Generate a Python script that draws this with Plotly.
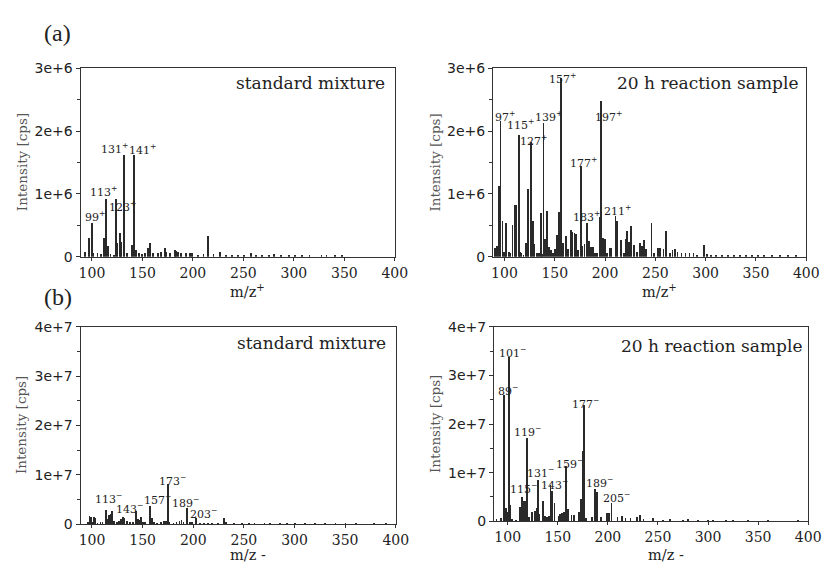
import plotly.graph_objects as go

# ---------------- data ----------------
# (a) positive mode, standard mixture  (intensity in 1e6 cps)
mz_a_std = [92.6, 96.7, 99.3, 101, 105, 108.5, 111.2, 113.5, 115.8, 118, 121, 123.2, 124.8, 127.1, 128.7, 131.6, 134,
            139.3, 141.3, 143, 146, 149, 152, 154.8, 157.1, 160, 165, 168, 171.9, 173, 177, 181.6, 183, 185, 188,
            193, 196.5, 199, 205, 210, 214.5, 220, 226.6, 232, 238, 244, 250, 257, 262, 268, 275, 280, 287,
            295, 301, 308, 315, 327, 332, 340, 347]
int_a_std = [0.08, 0.29, 0.54, 0.06, 0.05, 0.04, 0.30, 0.92, 0.17, 0.04, 0.03, 0.91, 0.21, 0.37, 0.23, 1.62, 0.05,
             0.19, 1.62, 0.10, 0.05, 0.04, 0.06, 0.14, 0.21, 0.05, 0.06, 0.08, 0.13, 0.08, 0.05, 0.11, 0.09, 0.08, 0.06,
             0.05, 0.05, 0.06, 0.03, 0.04, 0.33, 0.04, 0.07, 0.03, 0.03, 0.03, 0.03, 0.05, 0.03, 0.02, 0.03, 0.04, 0.02,
             0.02, 0.02, 0.03, 0.02, 0.02, 0.02, 0.02, 0.01]

# (a) positive mode, 20 h reaction sample  (1e6 cps)
mz_a_rxn = [90.3, 92.5, 94.2, 96.1, 98.0, 99.5, 101.0, 101.9, 104.5, 106, 108.0, 110.6, 111.8, 114.1, 115.5, 117, 119,
            121.5, 123.5, 126.4, 128.4, 129.8, 132, 134, 136.1, 137.5, 138.7, 140.2, 141.9, 144, 146, 148, 150.5,
            152.3, 154.5, 156.4, 157.8, 161.3, 163.5, 166.1, 167.6, 169.6, 171, 173, 175.8, 177.6, 179.5, 182.3,
            184, 186, 188, 190, 192, 194.5, 195.8, 197.6, 199.6, 202, 204.8, 206.5, 210.4, 212.0, 215.8, 218.5,
            220.3, 221.9, 223.5, 225.8, 228.9, 232, 234.5, 236.5, 238.4, 241, 246.2, 248.5, 253, 255, 258, 260.6,
            264.5, 267, 269.5, 272, 276, 280, 284, 288, 291, 298.2, 301, 305, 310, 316, 322, 328, 334, 340, 346,
            352, 358, 366, 374, 382, 390]
int_a_rxn = [0.13, 0.17, 1.12, 2.15, 0.56, 0.08, 0.30, 0.54, 0.07, 0.06, 0.50, 0.82, 0.82, 1.94, 0.08, 0.05, 0.03,
             0.22, 1.07, 1.82, 0.56, 0.20, 0.05, 0.06, 0.70, 0.04, 2.13, 0.28, 0.72, 0.15, 0.10, 0.06, 0.12,
             0.35, 0.71, 2.84, 0.22, 0.33, 0.12, 0.42, 0.39, 0.38, 0.36, 0.10, 1.44, 0.17, 0.20, 0.53,
             0.24, 0.16, 0.15, 0.05, 0.06, 0.63, 2.47, 0.29, 0.28, 0.05, 0.14, 0.14, 0.65, 0.57, 0.26, 0.05,
             0.28, 0.40, 0.23, 0.49, 0.18, 0.08, 0.21, 0.17, 0.26, 0.12, 0.53, 0.05, 0.14, 0.14, 0.12, 0.40,
             0.05, 0.10, 0.12, 0.07, 0.06, 0.06, 0.05, 0.05, 0.03, 0.19, 0.04, 0.03, 0.03, 0.02, 0.02, 0.02, 0.02, 0.02, 0.02,
             0.02, 0.02, 0.02, 0.01, 0.02, 0.02]

# (b) negative mode, standard mixture  (1e7 cps)
mz_b_std = [96.0, 97.1, 98.7, 100, 101.6, 102.5, 105, 108, 110, 113.0, 114.5, 116, 117.8, 119.7, 121, 124, 126, 128,
            130, 131.5, 134, 137, 140, 143.0, 144.8, 146, 147.8, 150, 152, 156.8, 158.6, 161, 164, 168, 171, 172.5,
            174.5, 176, 180, 183, 186, 188, 190, 193.6, 196, 198, 202.6, 206, 210, 214, 218, 224, 230.1, 232, 240,
            248, 255, 260, 270, 275, 285, 292, 300, 310, 320, 330, 340, 350, 360, 378, 390]
int_b_std = [0.05, 0.16, 0.14, 0.04, 0.14, 0.12, 0.03, 0.04, 0.05, 0.30, 0.10, 0.18, 0.20, 0.27, 0.06, 0.05, 0.07, 0.10,
             0.14, 0.12, 0.06, 0.04, 0.05, 0.28, 0.10, 0.08, 0.15, 0.04, 0.05, 0.37, 0.12, 0.04, 0.03, 0.05, 0.06, 0.06,
             0.81, 0.05, 0.03, 0.04, 0.07, 0.08, 0.05, 0.33, 0.05, 0.05, 0.13, 0.03, 0.02, 0.03, 0.03, 0.02, 0.12, 0.05, 0.02,
             0.01, 0.02, 0.01, 0.01, 0.02, 0.02, 0.01, 0.02, 0.01, 0.01, 0.01, 0.01, 0.01, 0.01, 0.02, 0.01]

# (b) negative mode, 20 h reaction sample  (1e7 cps)
mz_b_rxn = [88.7, 93.6, 96.2, 98.5, 100, 101.1, 102.1, 104.4, 108, 112.1, 114.1, 115.8, 117.1, 119.1, 121.4, 124.6,
            126.9, 128.8, 130.1, 131.5, 135, 137, 139.2, 141.5, 142.8, 144.4, 146.7, 150.6, 152.3, 153.9, 156.5,
            157.8, 160.5, 163.7, 166.3, 170.9, 172.8, 174.8, 176.5, 178.4, 184, 187, 189.2, 193.1, 199, 201.3,
            203.6, 209.5, 214.4, 217.6, 222.5, 229, 232.3, 235.6, 245.4, 255, 262, 275, 280, 290, 300, 305, 318,
            325, 340, 360, 390]
int_b_rxn = [0.05, 0.06, 2.61, 0.27, 0.20, 3.38, 0.33, 0.05, 0.03, 0.30, 0.50, 0.43, 0.43, 1.71, 0.10, 0.20,
             0.22, 0.27, 0.85, 0.15, 0.42, 0.12, 0.10, 0.12, 0.75, 0.63, 0.38, 0.12, 0.15, 0.18, 0.20,
             1.13, 0.25, 0.13, 0.13, 0.20, 0.47, 1.45, 2.40, 0.08, 0.10, 0.67, 0.60, 0.10, 0.17, 0.18,
             0.37, 0.10, 0.12, 0.07, 0.06, 0.10, 0.14, 0.05, 0.08, 0.03, 0.04, 0.03, 0.04, 0.03, 0.03, 0.02, 0.03,
             0.02, 0.02, 0.02, 0.02]

# peak labels: (text, m/z position of label, intensity position of label)
lab_a_std = [("99<sup>+</sup>", 103.5, 0.66), ("113<sup>+</sup>", 111, 1.05), ("123<sup>+</sup>", 130.4, 0.81),
             ("131<sup>+</sup>", 122.8, 1.74), ("141<sup>+</sup>", 150.0, 1.72)]
lab_a_rxn = [("97<sup>+</sup>", 100.3, 2.25), ("115<sup>+</sup>", 115.8, 2.12), ("139<sup>+</sup>", 143.9, 2.25),
             ("127<sup>+</sup>", 128.4, 1.86), ("157<sup>+</sup>", 157.4, 2.86), ("197<sup>+</sup>", 203.9, 2.25),
             ("177<sup>+</sup>", 178.2, 1.52), ("183<sup>+</sup>", 181.6, 0.66), ("211<sup>+</sup>", 212.6, 0.75)]
lab_b_std = [("113<sup>−</sup>", 116.2, 0.54), ("143<sup>−</sup>", 137, 0.34), ("157<sup>−</sup>", 165, 0.51),
             ("173<sup>−</sup>", 179.1, 0.91), ("189<sup>−</sup>", 192.6, 0.45), ("203<sup>−</sup>", 210, 0.23)]
lab_b_rxn = [("101<sup>−</sup>", 104.4, 3.50), ("89<sup>−</sup>", 100, 2.72), ("119<sup>−</sup>", 119.6, 1.87),
             ("131<sup>−</sup>", 132.3, 1.03), ("115<sup>−</sup>", 115.7, 0.70), ("143<sup>−</sup>", 147.0, 0.78),
             ("159<sup>−</sup>", 161.3, 1.21), ("177<sup>−</sup>", 177.5, 2.45), ("189<sup>−</sup>", 191.7, 0.82),
             ("205<sup>−</sup>", 208.3, 0.50)]

x_ticks = [100, 150, 200, 250, 300, 350, 400]
y_ticks_a = [0, 1e6, 2e6, 3e6]
y_text_a = ["0", "1e+6", "2e+6", "3e+6"]
y_ticks_b = [0, 1e7, 2e7, 3e7, 4e7]
y_text_b = ["0", "1e+7", "2e+7", "3e+7", "4e+7"]

panel_titles = ["standard mixture", "20 h reaction sample", "standard mixture", "20 h reaction sample"]

# ---------------- figure ----------------
W, H = 833, 571
fig = go.Figure()

panels = [
    # mz, intensities, scale, labels, x pixel domain, y pixel domain (top,bottom), xrange, ymax, yticks, ytext, minor
    (mz_a_std, int_a_std, 1e6, lab_a_std, (80, 400), (62, 256), (88.7, 400), 3e6, y_ticks_a, y_text_a, 0.5e6),
    (mz_a_rxn, int_a_rxn, 1e6, lab_a_rxn, (500, 819), (62, 256), (88.6, 400), 3e6, y_ticks_a, y_text_a, 0.5e6),
    (mz_b_std, int_b_std, 1e7, lab_b_std, (80, 401), (328, 531), (88.7, 400), 4e7, y_ticks_b, y_text_b, 0.5e7),
    (mz_b_rxn, int_b_rxn, 1e7, lab_b_rxn, (501, 821), (328, 528), (86.3, 400), 4e7, y_ticks_b, y_text_b, 0.5e7),
]

axis_col = "#333333"
annotations = []
for i, (mz, inten, sc, labs, xd, yd, xr, ymax, yt, ytt, minor) in enumerate(panels):
    n = i + 1
    xa = "x" if n == 1 else f"x{n}"
    ya = "y" if n == 1 else f"y{n}"
    fig.add_trace(go.Bar(
        x=mz, y=[v * sc for v in inten], width=0.8,
        marker=dict(color="#2a2a2a", line=dict(width=0)),
        xaxis=xa, yaxis=ya, showlegend=False, hoverinfo="x+y"))
    xkey = "xaxis" if n == 1 else f"xaxis{n}"
    ykey = "yaxis" if n == 1 else f"yaxis{n}"
    fig.layout[xkey] = dict(
        domain=[xd[0] / W, xd[1] / W], anchor=ya, range=list(xr),
        tickmode="array", tickvals=x_ticks, ticktext=[str(t) for t in x_ticks],
        showline=True, mirror=True, linecolor=axis_col, linewidth=1,
        ticks="outside", ticklen=3, tickcolor=axis_col, showgrid=False, zeroline=False,
        tickfont=dict(family="DejaVu Serif", size=14, color="#222"))
    fig.layout[ykey] = dict(
        domain=[1 - yd[1] / H, 1 - yd[0] / H], anchor=xa, range=[0, ymax],
        tickmode="array", tickvals=yt, ticktext=ytt,
        showline=True, mirror=True, linecolor=axis_col, linewidth=1,
        ticks="outside", ticklen=4, tickcolor=axis_col, showgrid=False, zeroline=False,
        minor=dict(dtick=minor, tick0=0, ticks="outside", ticklen=3, tickcolor=axis_col, showgrid=False),
        tickfont=dict(family="DejaVu Sans", size=14, color="#222"))
    for txt, lx, ly in labs:
        annotations.append(dict(x=lx, y=ly * sc, xref=xa, yref=ya, text=txt, showarrow=False,
                                xanchor="center", yanchor="middle", yshift=-1,
                                font=dict(family="DejaVu Serif", size=11, color="#222")))
    # y-axis title
    annotations.append(dict(x=(xd[0] - 60) / W, y=1 - (yd[0] + yd[1]) / 2 / H, xref="paper", yref="paper",
                            text="Intensity [cps]", textangle=-90, showarrow=False,
                            xanchor="center", yanchor="middle",
                            font=dict(family="DejaVu Serif", size=13.5, color="#555")))

# panel titles
title_pos = [(392, 77), (813, 77), (393, 345), (817, 348)]
for t, (px, py) in zip(panel_titles, title_pos):
    annotations.append(dict(x=px / W, y=1 - py / H, xref="paper", yref="paper", text=t, showarrow=False,
                            xanchor="right", yanchor="middle",
                            font=dict(family="DejaVu Serif", size=17, color="#222")))

# x-axis titles
xt_pos = [("m/z<sup>+</sup>", 250, 291), ("m/z<sup>+</sup>", 670, 291), ("m/z -", 251, 563), ("m/z -", 676, 563)]
for t, px, py in xt_pos:
    annotations.append(dict(x=px / W, y=1 - py / H, xref="paper", yref="paper", text=t, showarrow=False,
                            xanchor="center", yanchor="middle",
                            font=dict(family="DejaVu Serif", size=14.5, color="#222")))

# panel letters
for t, py in [("(a)", 26), ("(b)", 297)]:
    annotations.append(dict(x=57 / W, y=1 - py / H, xref="paper", yref="paper", text=t, showarrow=False,
                            xanchor="center", yanchor="middle",
                            font=dict(family="Liberation Serif", size=24, color="#222")))

fig.update_layout(width=W, height=H, margin=dict(l=0, r=0, t=0, b=0), autosize=False,
                  paper_bgcolor="white", plot_bgcolor="white", annotations=annotations,
                  bargap=0, showlegend=False)

fig.write_html("out.html", config={"displayModeBar": False},
               post_script="document.body.style.margin='0';document.body.style.overflow='hidden';")
